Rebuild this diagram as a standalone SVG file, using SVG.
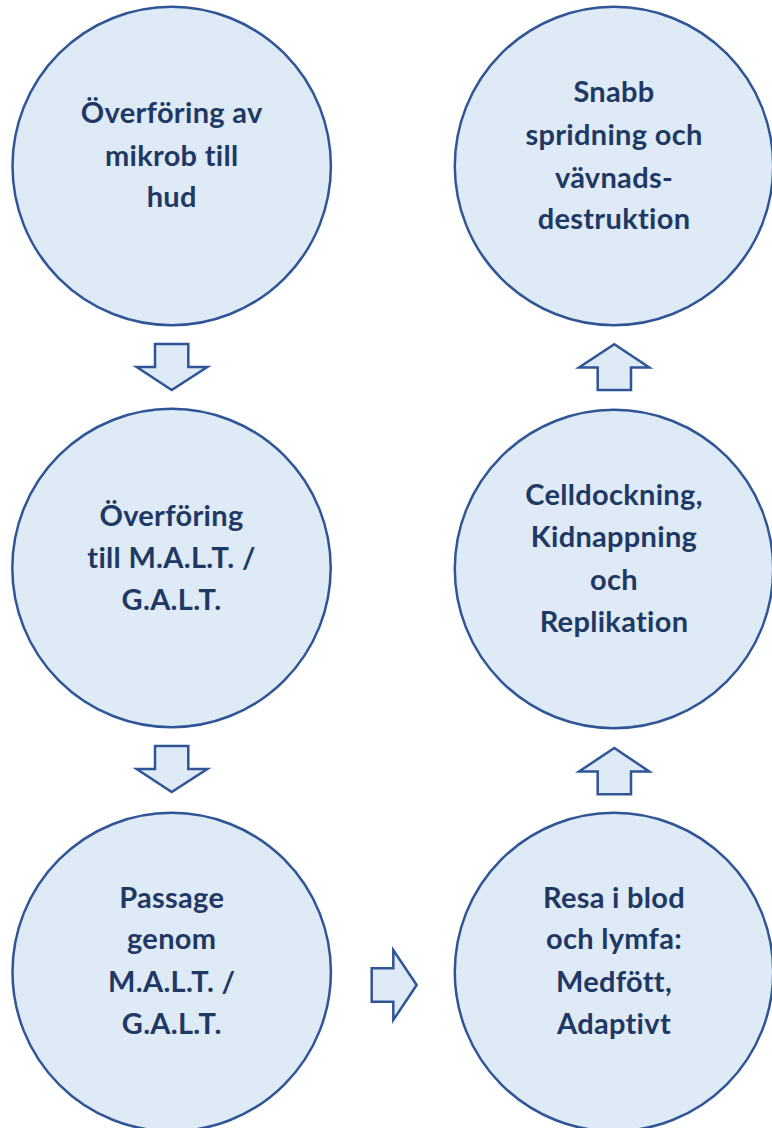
<svg xmlns="http://www.w3.org/2000/svg" width="772" height="1128" viewBox="0 0 772 1128">
<style>
.node circle{fill:#DEEAF6;stroke:#2F5597;stroke-width:2.5}
.node text{font-family:Lato,"Liberation Sans",sans-serif;font-weight:bold;font-size:29px;letter-spacing:0.3px;fill:#1F3864;text-anchor:middle}
.conn path{fill:#DEEAF6;stroke:#2F5597;stroke-width:2.5;stroke-linejoin:miter}
</style>
<rect width="772" height="1128" fill="#fff"/>
<g class="conn">
<path d="M155,344 H188.3 V367 H207.3 L171.7,390 L136.7,367 H155 Z"/>
<path d="M155,746 H188.3 V769 H207.3 L171.7,792 L136.7,769 H155 Z"/>
<path d="M597.7,390 H631 V367.5 H649.3 L614.3,344.3 L579,367.5 H597.7 Z"/>
<path d="M597.7,794.3 H631 V771.5 H649.3 L614.3,748 L579,771.5 H597.7 Z"/>
<path d="M371.7,968.3 H393.3 V950 L416.7,985 L393.3,1020 V1001.7 H371.7 Z"/>
</g>
<g id="n1" class="node"><circle cx="171.7" cy="166" r="159.2"/>
<text x="171.7" y="123.3">Överföring av</text><text x="171.7" y="165.7">mikrob till</text><text x="171.7" y="207.3">hud</text></g>
<g id="n2" class="node"><circle cx="171.5" cy="568" r="159.2"/>
<text x="171.5" y="526">Överföring</text><text x="171.5" y="567.7">till M.A.L.T. /</text><text x="171.5" y="610">G.A.L.T.</text></g>
<g id="n3" class="node"><circle cx="171.7" cy="972" r="159.2"/>
<text x="171.7" y="908.3">Passage</text><text x="171.7" y="949.3">genom</text><text x="171.7" y="991.7">M.A.L.T. /</text><text x="171.7" y="1034">G.A.L.T.</text></g>
<g id="n4" class="node"><circle cx="614" cy="972" r="159.2"/>
<text x="614" y="908.3">Resa i blod</text><text x="614" y="949.3">och lymfa:</text><text x="614" y="992.3">Medfött,</text><text x="614" y="1034.3">Adaptivt</text></g>
<g id="n5" class="node"><circle cx="614" cy="569" r="159.2"/>
<text x="614" y="505">Celldockning,</text><text x="614" y="546.7">Kidnappning</text><text x="614" y="590">och</text><text x="614" y="631.7">Replikation</text></g>
<g id="n6" class="node"><circle cx="614" cy="166" r="159.2"/>
<text x="614" y="101.7">Snabb</text><text x="614" y="145">spridning och</text><text x="614" y="187.7">vävnads-</text><text x="614" y="229.3">destruktion</text></g>
</svg>
